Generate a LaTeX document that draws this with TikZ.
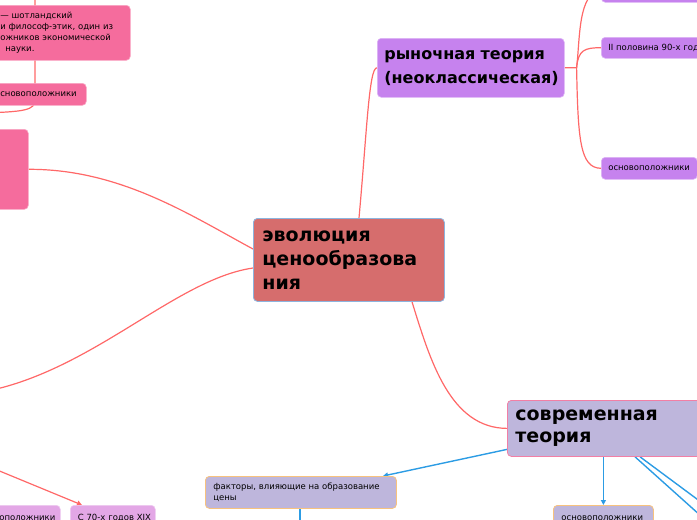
\documentclass[tikz,border=0pt]{standalone}
\usepackage{fontspec}
\setmainfont{DejaVu Sans}
\usepackage{xcolor}
\usepackage{tikz}
\usetikzlibrary{arrows.meta,backgrounds,calc}
\definecolor{rootfill}{HTML}{D66D6D}
\definecolor{rootedge}{HTML}{8DB4DE}
\definecolor{marketfill}{HTML}{C682EE}
\definecolor{modernfill}{HTML}{BEB6DC}
\definecolor{modernedge}{HTML}{F27FA5}
\definecolor{classicfill}{HTML}{F56C9D}
\definecolor{orchid}{HTML}{E3A7E6}
\definecolor{leafedge}{HTML}{F7C27E}
\definecolor{linkred}{HTML}{FF6868}
\definecolor{linkblue}{HTML}{2C9CE4}
\hyphenpenalty=10000
\tikzset{
  card/.style    ={anchor=north west,rounded corners=4pt,align=left,inner ysep=0pt},
  root/.style    ={card,fill=rootfill,draw=rootedge,line width=0.8pt,inner xsep=9pt,
                   font=\bfseries\fontsize{19}{24}\selectfont},
  market/.style  ={card,fill=marketfill,draw=marketfill!60!white,line width=0.6pt,
                   inner xsep=7pt,font=\bfseries\fontsize{16}{24}\selectfont},
  modern/.style  ={card,fill=modernfill,draw=modernedge,line width=0.8pt,inner xsep=8pt,
                   font=\bfseries\fontsize{19}{22}\selectfont},
  purpleleaf/.style={card,fill=marketfill,draw=marketfill!60!white,line width=0.6pt,
                   inner xsep=7pt,font=\fontsize{8.5}{11}\selectfont},
  classic/.style ={card,fill=classicfill,draw=classicfill!60!white,line width=0.6pt,
                   inner xsep=10pt,font=\fontsize{8.5}{11}\selectfont},
  lilac/.style   ={card,fill=orchid,draw=orchid!60!white,line width=0.6pt,
                   inner xsep=8pt,font=\fontsize{8.5}{11}\selectfont},
  leaf/.style    ={card,fill=modernfill,draw=leafedge,line width=0.8pt,
                   inner xsep=8pt,font=\fontsize{8.5}{11}\selectfont},
  link/.style    ={draw=linkred,line width=1.2pt},
  blink/.style   ={draw=linkblue,line width=1.4pt,-{Triangle[length=5pt,width=5pt]}}
}

\begin{document}
\begin{tikzpicture}[x=1pt,y=-1pt]
  \useasboundingbox (0,0) rectangle (697,520);
  \clip (0,0) rectangle (697,520);
  \node[root,minimum height=83pt,text width=173pt] (evol) at (253,218)
    {эволюция\\ценообразова\\ния};
  \node[market,minimum height=59pt,text width=173pt] (market) at (377,38)
    {рыночная теория\\(неоклассическая)};
  \node[modern,minimum height=56pt,text width=210pt] (modern) at (507,400)
    {современная\\теория};
  \node[purpleleaf,minimum height=22pt,text width=110pt] (period0) at (601,-20) {};
  \node[purpleleaf,minimum height=21pt,text width=110pt] (period) at (601,37)
    {II половина 90-х год};
  \node[purpleleaf,minimum height=22pt,text width=82pt] (foundmarket) at (601,157)
    {основоположники};
  \node[classic,minimum height=55pt,text width=120pt] (smith) at (-10,5)
    {— шотландский\\и философ-этик, один из\\ожников экономической\\\hspace*{5pt}науки.};
  \node[classic,minimum height=22pt,text width=76pt] (smithfound) at (-10,83)
    {сновоположники};
  \node[classic,minimum height=80pt,text width=38pt] (classic) at (-30,129) {};
  \node[lilac,minimum height=25pt,text width=52pt,inner xsep=9pt] (foundclassic) at (-10,505)
    {оположники};
  \node[lilac,minimum height=25pt,text width=70pt,inner xsep=7.5pt] (since70) at (70,505)
    {\mbox{С 70-х годов XIX}};
  \node[leaf,minimum height=32pt,text width=175pt] (factors) at (205,476)
    {факторы, влияющие на образование\\цены};
  \node[leaf,minimum height=25pt,text width=84pt] (foundmodern) at (553,505)
    {основоположники};
  \coordinate (fork) at ([xshift=12pt]market.east);
  \coordinate (offleft) at (-40,395);
  \coordinate (classicfork) at (-20,113);
  \coordinate (smithtop) at (35,-10);
  \coordinate (offbottomleft) at (-15,465);
  \coordinate (offright1) at (740,551);
  \coordinate (offright2) at (740,531);
  \coordinate (offfactors) at (300,540);
  \begin{scope}[on background layer]
    \draw[link] ([xshift=106pt]evol.north west) .. controls (367,130) and (369,67.5) .. (market.west);
    \draw[link] ([yshift=-31pt]evol.north west) .. controls (190,215) and (120,169) .. (classic.east);
    \draw[link] ([yshift=-50pt]evol.north west) .. controls (170,280) and (80,385) .. (offleft);
    \draw[link] ([xshift=159pt]evol.south west) .. controls (430,360) and (450,428) .. (modern.west);
    \draw[link] (market.east) -- (fork) .. controls (580,40) and (578,-9) .. (period0.west);
    \draw[link] (fork) .. controls (578,50) and (585,47.5) .. (period.west);
    \draw[link] (fork) .. controls (578,140) and (580,168) .. (foundmarket.west);
    \draw[link] (classicfork) .. controls (25,112) and (35,110) .. (35,100) -- (smithtop);
    \draw[link,-{Triangle[length=5pt,width=5pt]}] (offbottomleft) -- ([xshift=12pt]since70.north west);
    \draw[blink] ([yshift=-21pt]modern.west) -- ([xshift=178pt]factors.north west);
    \draw[blink] (modern.south -| foundmodern.north) -- (foundmodern.north);
    \draw[blink] ([xshift=128pt]modern.south west) -- (offright1);
    \draw[blink] ([xshift=133pt]modern.south west) -- (offright2);
    \draw[blink,-] ([xshift=95pt]factors.south west) -- (offfactors);
  \end{scope}
\end{tikzpicture}
\end{document}
